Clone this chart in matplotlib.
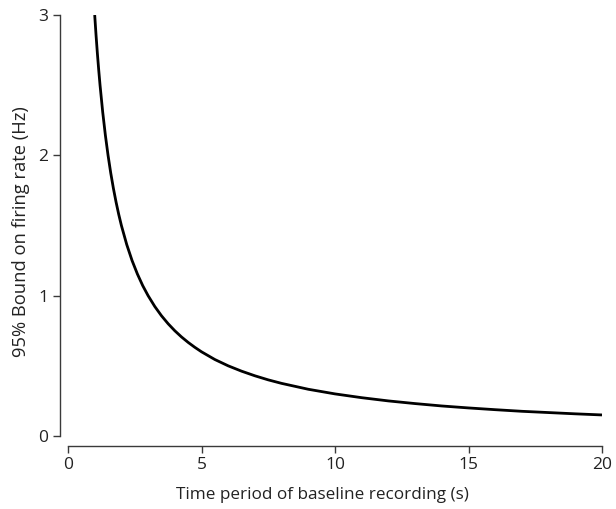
import numpy as np
import matplotlib.pyplot as plt

plt.rcParams['font.family'] = ['Open Sans', 'DejaVu Sans']

# recording duration (s) and 95% upper bound on firing rate (Hz)
duration = [1.0, 1.05, 1.1, 1.15, 1.2, 1.3, 1.4, 1.5, 1.6, 1.7, 1.8, 1.9, 2.0,
            2.2, 2.4, 2.6, 2.8, 3.0, 3.25, 3.5, 3.75, 4.0, 4.25, 4.5, 4.75, 5.0,
            5.5, 6.0, 6.5, 7.0, 7.5, 8.0, 9.0, 10.0, 11.0, 12.0, 13.0, 14.0,
            15.0, 16.0, 17.0, 18.0, 19.0, 20.0]
bound = [3.0, 2.857, 2.727, 2.609, 2.5, 2.308, 2.143, 2.0, 1.875, 1.765, 1.667,
         1.579, 1.5, 1.364, 1.25, 1.154, 1.071, 1.0, 0.923, 0.857, 0.8, 0.75,
         0.706, 0.667, 0.632, 0.6, 0.545, 0.5, 0.462, 0.429, 0.4, 0.375, 0.333,
         0.3, 0.273, 0.25, 0.231, 0.214, 0.2, 0.1875, 0.176, 0.167, 0.158, 0.15]

xticks = [0, 5, 10, 15, 20]
yticks = [0, 1, 2, 3]

fig = plt.figure(figsize=(6.16, 5.09), dpi=100)
ax = fig.add_axes([68 / 616, 73 / 509, 534 / 616, 421 / 509])

ax.plot(duration, bound, color='black', lw=2.0, solid_capstyle='butt',
        solid_joinstyle='round')

ax.set_xlim(0, 20)
ax.set_ylim(0, 3)
ax.set_xticks(xticks)
ax.set_yticks(yticks)

spine_col = '#3a3a3a'
for side in ['top', 'right']:
    ax.spines[side].set_visible(False)
ax.spines['left'].set_position(('outward', 6))
ax.spines['bottom'].set_position(('outward', 7))
for side in ['left', 'bottom']:
    ax.spines[side].set_color(spine_col)
    ax.spines[side].set_linewidth(1.0)
ax.tick_params(colors=spine_col, labelcolor='#222222', length=5, width=1.0,
               labelsize=12.5, pad=3)

ax.set_xlabel('Time period of baseline recording (s)', fontsize=12.3, color='#222222')
ax.set_ylabel('95% Bound on firing rate (Hz)', fontsize=13.2, color='#222222')
ax.xaxis.set_label_coords(0.476, -0.122)
ax.yaxis.set_label_coords(-0.072, 0.485)

fig.savefig('out.png', dpi=100)
